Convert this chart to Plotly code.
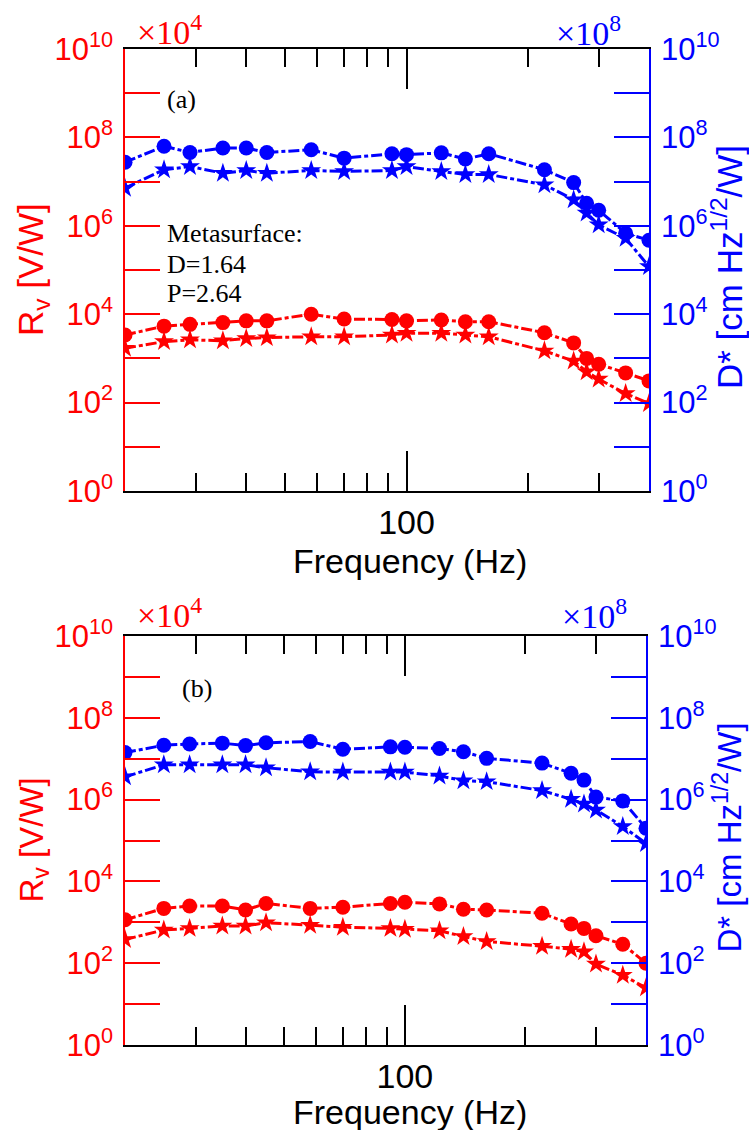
import math
import plotly.graph_objects as go

# Modulation frequencies (Hz), shared by both panels
freq = [20, 25, 29, 35, 40, 45, 58, 70, 92, 100, 122, 140, 160, 220, 260, 280, 300, 350, 400]

# Panel (a): responsivity Rv [V/W]
rv_a_circle = [3390, 5370, 5890, 6460, 7080, 7080, 10000, 7760, 7590, 7080,
               7410, 6760, 6760, 3800, 2240, 1000, 740, 470, 310]
rv_a_star = [1700, 2400, 2630, 2510, 2820, 2950, 3090, 3090, 3390, 3720,
             3720, 3390, 3090, 1480, 870, 500, 340, 160, 95]
# Panel (a): detectivity D* [cm Hz^1/2 / W]
ds_a_circle = [2.75e7, 6.3e7, 4.57e7, 5.75e7, 5.75e7, 4.57e7, 5.25e7, 3.39e7, 4.27e7, 4.07e7,
               4.47e7, 3.24e7, 4.27e7, 1.86e7, 9.5e6, 3.24e6, 2.24e6, 6.8e5, 4.7e5]
ds_a_star = [7.1e6, 1.86e7, 2.19e7, 1.55e7, 1.78e7, 1.55e7, 1.78e7, 1.7e7, 1.78e7, 2.19e7,
             1.7e7, 1.45e7, 1.45e7, 8.5e6, 3.9e6, 1.95e6, 1.05e6, 5.2e5, 1.2e5]

# Panel (b)
rv_b_circle = [1150, 2190, 2510, 2510, 2000, 2880, 2190, 2340, 2880, 3090,
               2820, 2090, 2000, 1660, 910, 710, 470, 290, 100]
rv_b_star = [380, 650, 710, 810, 810, 980, 850, 760, 710, 680,
             620, 450, 340, 260, 220, 190, 95, 51, 25]
ds_b_circle = [1.41e7, 2.14e7, 2.29e7, 2.4e7, 2.09e7, 2.45e7, 2.63e7, 1.7e7, 1.95e7, 1.9e7,
               1.78e7, 1.48e7, 1.02e7, 7.8e6, 4.4e6, 3.0e6, 1.15e6, 9.3e5, 2.0e5]
ds_b_star = [3.6e6, 7.1e6, 7.1e6, 7.1e6, 7.1e6, 6.0e6, 4.8e6, 4.7e6, 4.7e6, 4.7e6,
             3.8e6, 2.9e6, 2.75e6, 1.66e6, 1.02e6, 7.8e5, 5.6e5, 2.2e5, 8.5e4]

# Axis ticks
x_major = [100]
x_major_text = ["100"]
x_minor = [30, 40, 50, 60, 70, 80, 90, 200, 300]
y_major_exp = [0, 2, 4, 6, 8, 10]
y_minor_exp = [1, 3, 5, 7, 9]
y_major = [10 ** k for k in y_major_exp]
y_major_text = [f"10<sup>{k}</sup>" for k in y_major_exp]
y_minor = [10 ** k for k in y_minor_exp]

RED = "#ff0000"
BLUE = "#0000ff"
SANS = "Liberation Sans, Arial, sans-serif"
SERIF = "Liberation Serif, Times New Roman, serif"

W, H = 749, 1130
ML, MR, MT, MB = 125, 100, 49, 85
PW = W - ML - MR
PH = H - MT - MB


def px(xp):
    return (xp - ML) / PW


def py(yp):
    return 1 - (yp - MT) / PH


fig = go.Figure()


def add_series(x, y, color, symbol, size, xa, ya):
    fig.add_trace(go.Scatter(
        x=x, y=y, xaxis=xa, yaxis=ya, mode="lines+markers",
        line=dict(color=color, width=3, dash="11px,3px,4px,3px"),
        marker=dict(color=color, symbol=symbol, size=size),
        showlegend=False, hoverinfo="skip"))


add_series(freq, rv_a_circle, RED, "circle", 15, "x", "y")
add_series(freq, rv_a_star, RED, "star", 15, "x", "y")
add_series(freq, ds_a_circle, BLUE, "circle", 15, "x", "y2")
add_series(freq, ds_a_star, BLUE, "star", 15, "x", "y2")

add_series(freq, rv_b_circle, RED, "circle", 15, "x2", "y3")
add_series(freq, rv_b_star, RED, "star", 15, "x2", "y3")
add_series(freq, ds_b_circle, BLUE, "circle", 15, "x2", "y4")
add_series(freq, ds_b_star, BLUE, "star", 15, "x2", "y4")

xrange = [math.log10(20), math.log10(400)]


def x_axis(domain, anchor):
    return dict(
        domain=domain, anchor=anchor, type="log", range=xrange,
        showline=True, linecolor="black", linewidth=1.5, mirror="ticks",
        ticks="inside", ticklen=40, tickwidth=1.5, tickcolor="black",
        tickmode="array", tickvals=x_major, ticktext=x_major_text,
        tickfont=dict(family=SANS, size=34, color="black"),
        ticklabelstandoff=0,
        minor=dict(tickmode="array", tickvals=x_minor, ticks="inside",
                   ticklen=18, tickwidth=1.5, tickcolor="black", showgrid=False),
        showgrid=False, zeroline=False)


def y_axis(domain, anchor, color, side, overlaying=None):
    d = dict(
        domain=domain, anchor=anchor, type="log", range=[0, 10], side=side,
        showline=True, linecolor=color, linewidth=1.5,
        ticks="inside", ticklen=35, tickwidth=1.5, tickcolor=color,
        tickmode="array", tickvals=y_major, ticktext=y_major_text,
        tickfont=dict(family=SANS, size=31, color=color),
        ticklabelstandoff=4,
        minor=dict(tickmode="array", tickvals=y_minor, ticks="inside",
                   ticklen=35, tickwidth=1.5, tickcolor=color, showgrid=False),
        showgrid=False, zeroline=False)
    if overlaying:
        d["overlaying"] = overlaying
    return d


top_dom = [py(491), 1.0]
bot_dom = [0.0, py(636)]

fig.update_layout(
    width=W, height=H,
    margin=dict(l=ML, r=MR, t=MT, b=MB, pad=0),
    paper_bgcolor="white", plot_bgcolor="white",
    xaxis=x_axis([0, 1], "y"),
    yaxis=y_axis(top_dom, "x", RED, "left"),
    yaxis2=y_axis(top_dom, "x", BLUE, "right", overlaying="y"),
    xaxis2=x_axis([0, px(646)], "y3"),
    yaxis3=y_axis(bot_dom, "x2", RED, "left"),
    yaxis4=y_axis(bot_dom, "x2", BLUE, "right", overlaying="y3"),
)


def note(text, xp, yp, size, color="black", family=SERIF, xanchor="left",
         yanchor="middle", angle=0):
    fig.add_annotation(
        text=text, x=px(xp), y=py(yp), xref="paper", yref="paper",
        xanchor=xanchor, yanchor=yanchor, showarrow=False, textangle=angle,
        font=dict(family=family, size=size, color=color))


# Axis titles and multiplier labels for both panels
for (y_top, y_bot, mult4_y, mult8_y, mult8_x, title_size, freq_y) in [
    (49, 491, 30, 31, 623, 35, 561),
    (636, 1045, 613, 614, 629, 33, 1112),
]:
    yc = (y_top + y_bot) / 2
    note("R<sub>v</sub> [V/W]", 33, yc, title_size, RED, SANS,
         xanchor="center", angle=-90)
    note("D* [cm Hz<sup>1/2</sup>/W]", 727, yc - 3, title_size, BLUE, SANS,
         xanchor="center", angle=-90)
    note("\u00d710<sup>4</sup>", 135, mult4_y, 34, RED, SERIF)
    note("\u00d710<sup>8</sup>", mult8_x, mult8_y, 34, BLUE, SERIF, xanchor="right")
    note("Frequency (Hz)", 410, freq_y, 34, "black", SANS, xanchor="center")

# Panel labels and sample description
note("(a)", 165, 100, 26)
note("(b)", 180, 688, 26)
note("Metasurface:", 165, 234, 26)
note("D=1.64", 165, 264, 26)
note("P=2.64", 165, 294, 26)

fig.write_html("out.html")
